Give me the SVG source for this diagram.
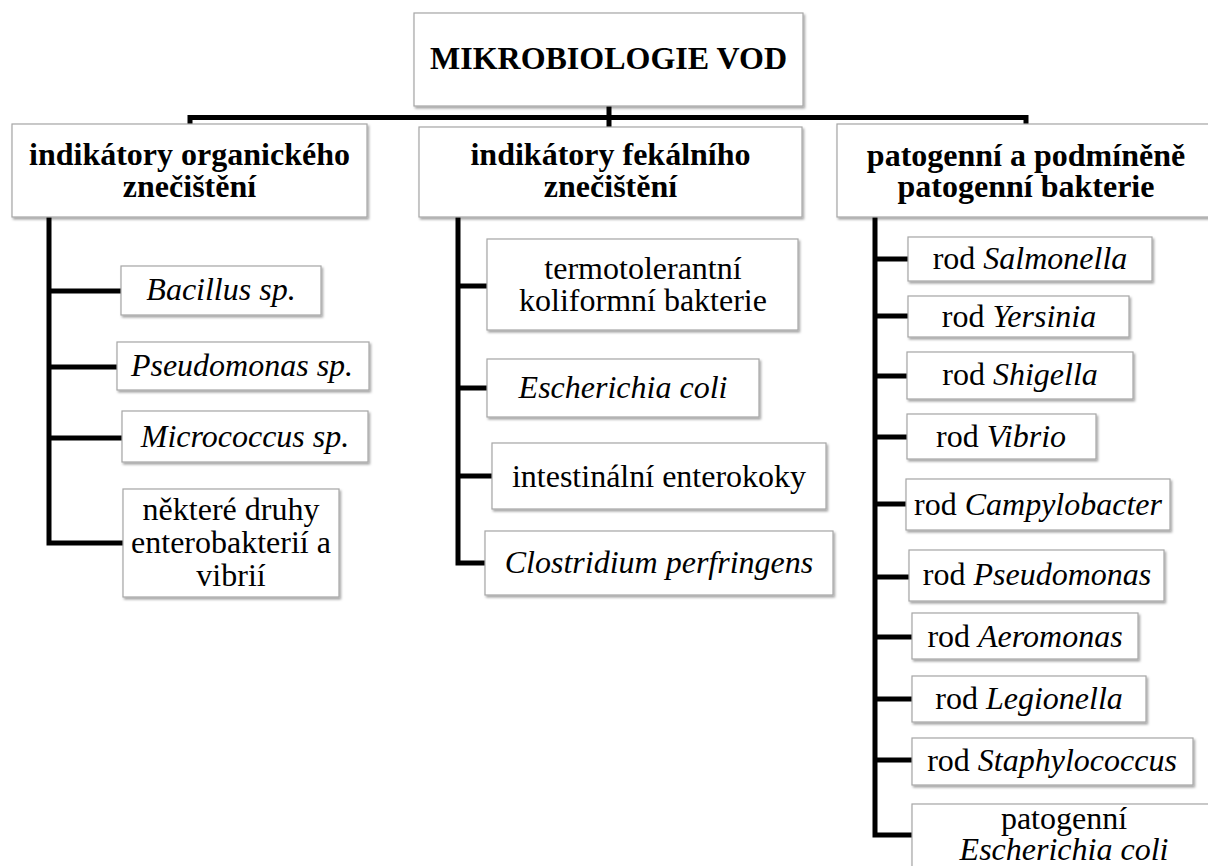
<svg xmlns="http://www.w3.org/2000/svg" width="1208" height="866" viewBox="0 0 1208 866">
<style>
.box{fill:#fff;stroke:#a6a6a6;stroke-width:1.2;filter:url(#sh)}
.t{font-family:"Liberation Serif","Times New Roman",serif;font-size:32px;fill:#000;text-anchor:middle}
.b{font-weight:bold}
.i{font-style:italic}
.c{fill:none;stroke:#000;stroke-width:5;stroke-linejoin:miter;stroke-linecap:butt}
</style>
<defs>
<filter id="sh" x="-10%" y="-20%" width="130%" height="150%">
<feDropShadow dx="1.5" dy="2" stdDeviation="1.3" flood-color="#000" flood-opacity="0.35"/>
</filter>
</defs>
<rect width="1208" height="866" fill="#fff"/>
<g id="connectors">
<path class="c" d="M190 124V117.5H1026V124"/>
<path class="c" d="M609 106V127"/>
<path class="c" d="M49 217V543H123M49 291H121M49 367H117M49 438H122"/>
<path class="c" d="M458 217V563H485M458 286H487M458 388H487M458 476H492"/>
<path class="c" d="M875 217V835H912M875 259H908M875 316H908M875 376H907M875 437H907M875 504H906M875 577H909M875 637H912M875 699H912M875 760H912"/>
</g>
<g id="root"><rect class="box" x="414" y="13" width="389" height="93"/><text class="t b" x="608.5" y="69">MIKROBIOLOGIE VOD</text></g>
<g id="org"><rect class="box" x="12" y="124" width="355" height="93"/><text class="t b" x="189.5" y="165">indikátory organického<tspan x="189.5" dy="32">znečištění</tspan></text></g>
<g id="fek"><rect class="box" x="419" y="127" width="383" height="90"/><text class="t b" x="610.5" y="165">indikátory fekálního<tspan x="610.5" dy="32">znečištění</tspan></text></g>
<g id="pat"><rect class="box" x="837" y="124" width="378" height="93"/><text class="t b" x="1026" y="166">patogenní a podmíněně<tspan x="1026" dy="31">patogenní bakterie</tspan></text></g>
<g id="bacillus"><rect class="box" x="121" y="266" width="200" height="49"/><text class="t i" x="221" y="300">Bacillus sp.</text></g>
<g id="pseudomonas-sp"><rect class="box" x="117" y="342" width="252" height="48"/><text class="t i" x="242" y="376">Pseudomonas sp.</text></g>
<g id="micrococcus"><rect class="box" x="122" y="411" width="246" height="51"/><text class="t i" x="245" y="447">Micrococcus sp.</text></g>
<g id="nektere"><rect class="box" x="123" y="489" width="216" height="108"/><text class="t" x="231" y="520">některé druhy<tspan x="231" dy="33">enterobakterií a</tspan><tspan x="231" dy="33">vibrií</tspan></text></g>
<g id="termo"><rect class="box" x="487" y="239" width="311" height="91"/><text class="t" x="643" y="279">termotolerantní<tspan x="643" dy="32">koliformní bakterie</tspan></text></g>
<g id="ecoli"><rect class="box" x="487" y="359" width="272" height="58"/><text class="t i" x="623" y="398">Escherichia coli</text></g>
<g id="entero"><rect class="box" x="492" y="443" width="334" height="66"/><text class="t" x="659" y="487">intestinální enterokoky</text></g>
<g id="clostridium"><rect class="box" x="485" y="531" width="348" height="64"/><text class="t i" x="659" y="573">Clostridium perfringens</text></g>
<g id="salmonella"><rect class="box" x="908" y="237" width="244" height="44"/><text class="t" x="1030" y="269">rod <tspan class="i">Salmonella</tspan></text></g>
<g id="yersinia"><rect class="box" x="908" y="296" width="221" height="41"/><text class="t" x="1019" y="327">rod <tspan class="i">Yersinia</tspan></text></g>
<g id="shigella"><rect class="box" x="907" y="352" width="226" height="47"/><text class="t" x="1020" y="385">rod <tspan class="i">Shigella</tspan></text></g>
<g id="vibrio"><rect class="box" x="907" y="414" width="189" height="45"/><text class="t" x="1001" y="447">rod <tspan class="i">Vibrio</tspan></text></g>
<g id="campylobacter"><rect class="box" x="906" y="479" width="264" height="51"/><text class="t" x="1038" y="515">rod <tspan class="i">Campylobacter</tspan></text></g>
<g id="pseudomonas"><rect class="box" x="909" y="550" width="255" height="51"/><text class="t" x="1037" y="585">rod <tspan class="i">Pseudomonas</tspan></text></g>
<g id="aeromonas"><rect class="box" x="912" y="613" width="226" height="46"/><text class="t" x="1025" y="647">rod <tspan class="i">Aeromonas</tspan></text></g>
<g id="legionella"><rect class="box" x="912" y="676" width="234" height="46"/><text class="t" x="1029" y="709">rod <tspan class="i">Legionella</tspan></text></g>
<g id="staphylococcus"><rect class="box" x="912" y="738" width="281" height="47"/><text class="t" x="1052" y="771">rod <tspan class="i">Staphylococcus</tspan></text></g>
<g id="patecoli"><rect class="box" x="912" y="804" width="304" height="80"/><text class="t" x="1064" y="829">patogenní<tspan class="i" x="1064" dy="31">Escherichia coli</tspan></text></g>
</svg>
